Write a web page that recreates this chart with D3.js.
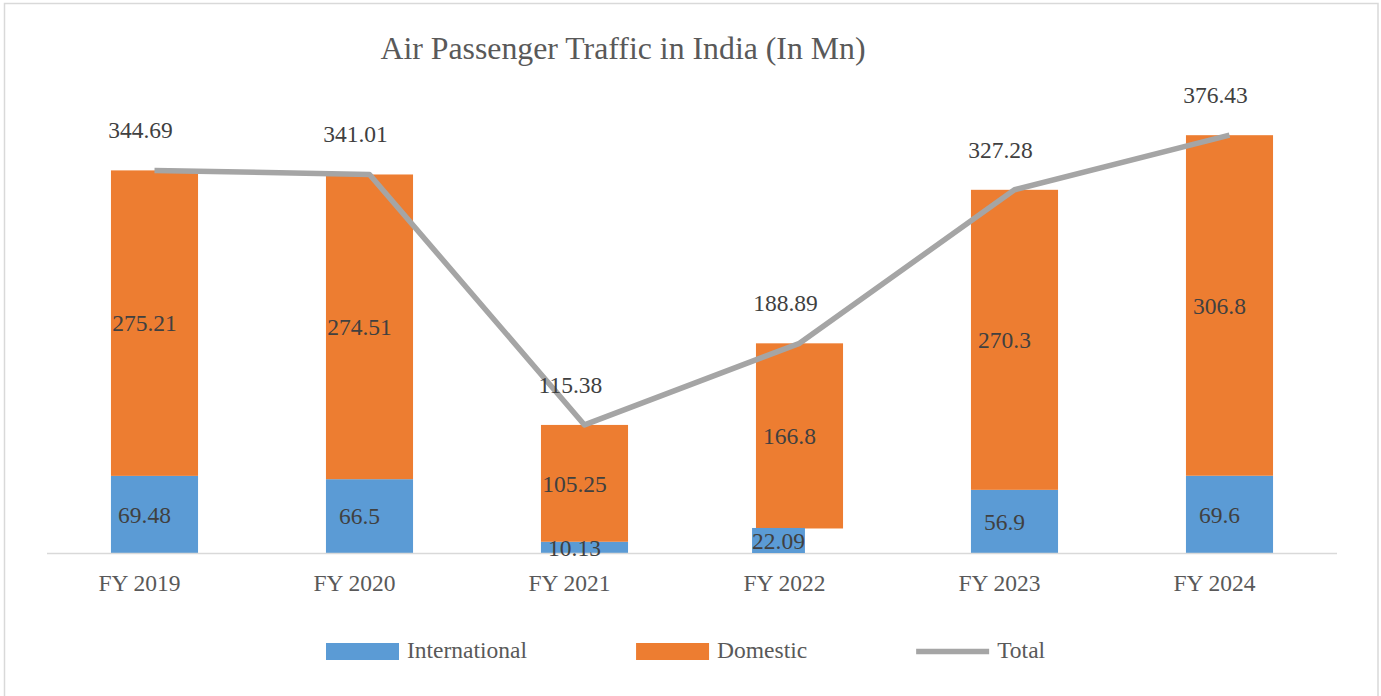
<!DOCTYPE html>
<html>
<head>
<meta charset="utf-8">
<script src="https://cdn.jsdelivr.net/npm/d3@7"></script>
<style>
body { margin: 0; background: #fff; }
svg text { font-family: "Liberation Serif", "Times New Roman", serif; }
</style>
</head>
<body>
<svg id="chart" width="1381" height="696"></svg>
<script>
// data (millions of passengers)
var years = ["FY 2019", "FY 2020", "FY 2021", "FY 2022", "FY 2023", "FY 2024"];
var international = [69.48, 66.5, 10.13, 22.09, 56.9, 69.6];
var domestic = [275.21, 274.51, 105.25, 166.8, 270.3, 306.8];
var total = [344.69, 341.01, 115.38, 188.89, 327.28, 376.43];
var seriesNames = ["International", "Domestic", "Total"];
// in the original, this year's international value shows only as a filled label
var boxedLabelYears = ["FY 2022"];

var colors = { International: "#5b9bd5", Domestic: "#ed7d31", Total: "#a5a5a5" };

var svg = d3.select("#chart");

// outer frame
svg.append("rect")
    .attr("x", 4.5).attr("y", 3.5)
    .attr("width", 1373.5).attr("height", 700)
    .attr("fill", "none")
    .attr("stroke", "#d9d9d9")
    .attr("stroke-width", 1.5);

var x = d3.scaleBand()
    .domain(years)
    .range([47, 1337])
    .paddingInner(0.595)
    .paddingOuter(0.2975);

var y = d3.scaleLinear()
    .domain([0, 400])
    .range([553, 109]);

var rows = years.map(function(yr, i) {
    return { year: yr, International: international[i], Domestic: domestic[i], Total: total[i] };
});

var stacked = d3.stack().keys(["International", "Domestic"])(rows);

// title
svg.append("text")
    .attr("x", 623)
    .attr("y", 59)
    .attr("text-anchor", "middle")
    .attr("fill", "#595959")
    .style("font-size", "31.8px")
    .text("Air Passenger Traffic in India (In Mn)");

// bars
var layers = svg.selectAll("g.layer")
    .data(stacked)
    .enter()
    .append("g")
    .attr("class", "layer")
    .attr("fill", function(d) { return colors[d.key]; });

layers.selectAll("rect")
    .data(function(d) {
        return d.filter(function(p) {
            return !(d.key == "International" && boxedLabelYears.indexOf(p.data.year) >= 0);
        });
    })
    .enter()
    .append("rect")
    .attr("x", function(d) { return x(d.data.year); })
    .attr("y", function(d) { return y(d[1]); })
    .attr("width", x.bandwidth())
    .attr("height", function(d) { return y(d[0]) - y(d[1]); });

// x axis line
svg.append("line")
    .attr("x1", 47).attr("x2", 1337)
    .attr("y1", 553.5).attr("y2", 553.5)
    .attr("stroke", "#d9d9d9")
    .attr("stroke-width", 1.5);

// category labels
svg.selectAll("text.xlab")
    .data(years)
    .enter()
    .append("text")
    .attr("class", "xlab")
    .attr("x", function(d) { return x(d) + x.bandwidth() / 2 - 15; })
    .attr("y", 591)
    .attr("text-anchor", "middle")
    .attr("fill", "#595959")
    .style("font-size", "23.5px")
    .text(function(d) { return d; });

// total line
var line = d3.line()
    .x(function(d) { return x(d.year) + x.bandwidth() / 2; })
    .y(function(d) { return y(d.Total); });

svg.append("path")
    .datum(rows)
    .attr("d", line)
    .attr("fill", "none")
    .attr("stroke", colors.Total)
    .attr("stroke-width", 5.5)
    .attr("stroke-linejoin", "round");

// segment labels
stacked.forEach(function(layer) {
    layer.forEach(function(p) {
        var boxed = layer.key == "International" && boxedLabelYears.indexOf(p.data.year) >= 0;
        var cx = x(p.data.year) + x.bandwidth() / 2 - (boxed ? 21 : 10);
        var cy = (y(p[0]) + y(p[1])) / 2;
        var t = svg.append("text")
            .attr("x", cx)
            .attr("y", cy)
            .attr("dy", "0.35em")
            .attr("text-anchor", "middle")
            .attr("fill", "#404040")
            .style("font-size", "23.5px")
            .text(String(p.data[layer.key]));
        if (boxed) {
            var bb = t.node().getBBox();
            svg.insert("rect", function() { return t.node(); })
                .attr("x", bb.x)
                .attr("y", bb.y)
                .attr("width", bb.width)
                .attr("height", Math.min(bb.height, 553 - bb.y))
                .attr("fill", colors.International);
        }
    });
});

// total labels
svg.selectAll("text.totlab")
    .data(rows)
    .enter()
    .append("text")
    .attr("class", "totlab")
    .attr("x", function(d) { return x(d.year) + x.bandwidth() / 2 - 14; })
    .attr("y", function(d) { return y(d.Total) - 32; })
    .attr("text-anchor", "middle")
    .attr("fill", "#404040")
    .style("font-size", "23.5px")
    .text(function(d) { return String(d.Total); });

// legend
var legend = svg.append("g");
var lx = 326;
seriesNames.forEach(function(name) {
    if (name == "Total") {
        legend.append("line")
            .attr("x1", lx).attr("x2", lx + 73)
            .attr("y1", 651.5).attr("y2", 651.5)
            .attr("stroke", colors.Total)
            .attr("stroke-width", 5.5);
    } else {
        legend.append("rect")
            .attr("x", lx).attr("y", 643)
            .attr("width", 73).attr("height", 17)
            .attr("fill", colors[name]);
    }
    var lt = legend.append("text")
        .attr("x", lx + 81)
        .attr("y", 658)
        .attr("fill", "#595959")
        .style("font-size", "23.5px")
        .text(name);
    lx = lx + 81 + lt.node().getComputedTextLength() + 109;
});
</script>
</body>
</html>
